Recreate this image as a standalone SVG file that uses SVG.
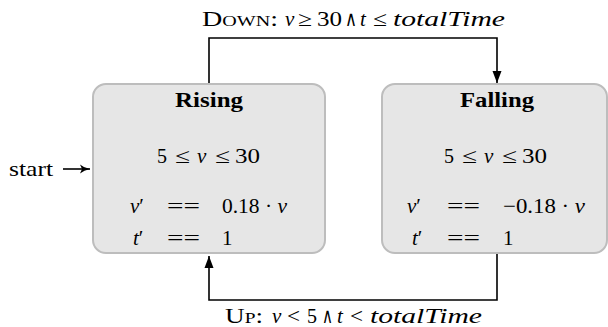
<svg xmlns="http://www.w3.org/2000/svg" width="608" height="327" viewBox="0 0 608 327">
<style>
text{font-family:"Liberation Serif","DejaVu Serif",serif;font-size:21px;fill:#000}
.it{font-style:italic}
.sc{font-variant:small-caps}
.b{font-weight:bold}
.m{text-anchor:middle}
.and{font-family:"DejaVu Serif","Liberation Serif",serif;font-size:21px}
.state{fill:#e6e6e6;stroke:#bdbdbd;stroke-width:2}
.edge{fill:none;stroke:#000;stroke-width:1.6}
</style>
<defs>
<marker id="tri" markerWidth="12" markerHeight="16" refX="16" refY="6" viewBox="0 0 16 12" markerUnits="userSpaceOnUse" orient="auto">
<path d="M0 0 L16 6 L0 12 Z" fill="#000"/>
</marker>
<marker id="to" markerWidth="10" markerHeight="10" refX="10" refY="5" viewBox="0 0 10 10" markerUnits="userSpaceOnUse" orient="auto">
<path d="M0 0.5 Q4 4 10 5 Q4 6 0 9.5 L2 5 Z" fill="#000"/>
</marker>
</defs>
<g id="connectors">
<path class="edge" d="M209 84 V38 H497 V83" marker-end="url(#tri)"/>
<path class="edge" d="M497 254 V300 H209 V256" marker-end="url(#tri)"/>
<path class="edge" d="M63 169 H90" marker-end="url(#to)"/>
<g id="label-down">
<text class="sc" x="202" y="26" textLength="76" lengthAdjust="spacingAndGlyphs">Down:</text>
<text class="it" x="285" y="26">v</text>
<text x="298" y="26" textLength="14" lengthAdjust="spacingAndGlyphs">≥</text>
<text x="317" y="26" textLength="25" lengthAdjust="spacingAndGlyphs">30</text>
<text class="and" x="345" y="26" textLength="12" lengthAdjust="spacingAndGlyphs">∧</text>
<text class="it" x="360" y="26">t</text>
<text x="373" y="26" textLength="14" lengthAdjust="spacingAndGlyphs">≤</text>
<text class="it" x="393" y="26" textLength="112" lengthAdjust="spacingAndGlyphs">totalTime</text>
</g>
<g id="label-up">
<text class="sc" x="225" y="323" textLength="38" lengthAdjust="spacingAndGlyphs">Up:</text>
<text class="it" x="272" y="323">v</text>
<text x="287" y="323" textLength="13" lengthAdjust="spacingAndGlyphs">&lt;</text>
<text x="307" y="323" textLength="10" lengthAdjust="spacingAndGlyphs">5</text>
<text class="and" x="322" y="323" textLength="11" lengthAdjust="spacingAndGlyphs">∧</text>
<text class="it" x="337" y="323">t</text>
<text x="350" y="323" textLength="13" lengthAdjust="spacingAndGlyphs">&lt;</text>
<text class="it" x="370" y="323" textLength="112" lengthAdjust="spacingAndGlyphs">totalTime</text>
</g>
<text x="9" y="176" textLength="44" lengthAdjust="spacingAndGlyphs">start</text>
</g>
<g id="rising">
<rect class="state" x="93" y="84" width="232" height="169" rx="13"/>
<text class="b m" x="209" y="107" textLength="68" lengthAdjust="spacingAndGlyphs">Rising</text>
<text x="157" y="163" textLength="10" lengthAdjust="spacingAndGlyphs">5</text>
<text x="175" y="163" textLength="15" lengthAdjust="spacingAndGlyphs">≤</text>
<text class="it" x="197" y="163">v</text>
<text x="215" y="163" textLength="15" lengthAdjust="spacingAndGlyphs">≤</text>
<text x="235" y="163" textLength="25" lengthAdjust="spacingAndGlyphs">30</text>
<text x="130" y="213"><tspan class="it">v</tspan>′</text>
<text x="167" y="213" textLength="33" lengthAdjust="spacingAndGlyphs">==</text>
<text x="222" y="213" textLength="65" lengthAdjust="spacingAndGlyphs">0.18 · <tspan class="it">v</tspan></text>
<text x="133" y="245"><tspan class="it">t</tspan>′</text>
<text x="167" y="245" textLength="33" lengthAdjust="spacingAndGlyphs">==</text>
<text x="222" y="245">1</text>
</g>
<g id="falling">
<rect class="state" x="382" y="84" width="225" height="169" rx="13"/>
<text class="b m" x="497" y="107" textLength="74" lengthAdjust="spacingAndGlyphs">Falling</text>
<text x="444" y="163" textLength="10" lengthAdjust="spacingAndGlyphs">5</text>
<text x="462" y="163" textLength="15" lengthAdjust="spacingAndGlyphs">≤</text>
<text class="it" x="484" y="163">v</text>
<text x="502" y="163" textLength="15" lengthAdjust="spacingAndGlyphs">≤</text>
<text x="522" y="163" textLength="25" lengthAdjust="spacingAndGlyphs">30</text>
<text x="407" y="213"><tspan class="it">v</tspan>′</text>
<text x="447" y="213" textLength="33" lengthAdjust="spacingAndGlyphs">==</text>
<text x="503" y="213" textLength="82" lengthAdjust="spacingAndGlyphs">−0.18 · <tspan class="it">v</tspan></text>
<text x="412" y="245"><tspan class="it">t</tspan>′</text>
<text x="447" y="245" textLength="33" lengthAdjust="spacingAndGlyphs">==</text>
<text x="503" y="245">1</text>
</g>
</svg>
